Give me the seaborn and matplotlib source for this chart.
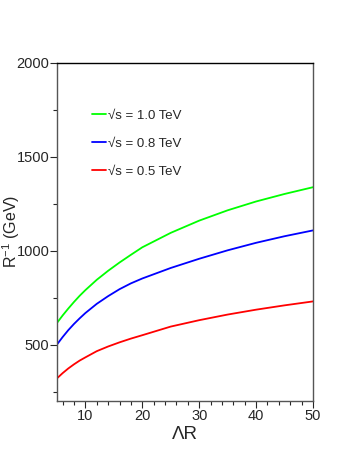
import numpy as np
import pandas as pd
import matplotlib
matplotlib.use("Agg")
import matplotlib.pyplot as plt
from matplotlib.ticker import MultipleLocator
import seaborn as sns

# Lambda*R values and R^-1 (GeV) for each collider energy
lam_r = [5, 6, 7, 8, 9, 10, 12, 14, 16, 18, 20, 25, 30, 35, 40, 45, 50]
rinv_10 = [615, 655, 692, 727, 760, 790, 845, 893, 937, 978, 1018, 1095, 1160, 1215, 1262, 1302, 1338]
rinv_08 = [500, 540, 577, 610, 640, 668, 717, 758, 795, 826, 852, 908, 957, 1002, 1042, 1077, 1108]
rinv_05 = [320, 348, 373, 395, 415, 432, 465, 490, 512, 532, 550, 596, 630, 660, 686, 709, 730]

labels = ["√s = 1.0 TeV", "√s = 0.8 TeV", "√s = 0.5 TeV"]
colors = ["#00ff00", "#0000ff", "#ff0000"]

df = pd.concat([
    pd.DataFrame({"LR": lam_r, "Rinv": rinv_10, "energy": labels[0]}),
    pd.DataFrame({"LR": lam_r, "Rinv": rinv_08, "energy": labels[1]}),
    pd.DataFrame({"LR": lam_r, "Rinv": rinv_05, "energy": labels[2]}),
])

sns.set_style("ticks")
plt.rcParams["font.family"] = ["Liberation Sans", "DejaVu Sans"]
plt.rcParams["mathtext.default"] = "regular"

fig = plt.figure(figsize=(3.47, 4.49), dpi=100)
ax = fig.add_axes([0.164, 0.107, 0.738, 0.753])

sns.lineplot(data=df, x="LR", y="Rinv", hue="energy", hue_order=labels,
             palette=colors, linewidth=1.3, ax=ax)

ax.set_xlim(5, 50)
ax.set_ylim(200, 2000)
ax.set_xticks([10, 20, 30, 40, 50])
ax.set_yticks([500, 1000, 1500, 2000])
ax.xaxis.set_minor_locator(MultipleLocator(2))
ax.yaxis.set_minor_locator(MultipleLocator(250))
ax.tick_params(which="major", length=5, width=0.8, labelsize=10.5, pad=1)
ax.tick_params(axis="y", which="major", pad=0.5)
ax.tick_params(which="minor", length=3, width=0.8)

for side in ["left", "right", "bottom"]:
    ax.spines[side].set_color("#555555")
ax.spines["top"].set_color("black")
for s in ax.spines.values():
    s.set_linewidth(1.0)

ax.set_xlabel("ΛR", fontsize=13.5, labelpad=2)
ax.set_ylabel("R$^{-1}$ (GeV)", fontsize=11.5)
ax.yaxis.set_label_coords(-0.138, 0.5)

ax.legend(frameon=False, fontsize=9.5, loc="upper left",
          bbox_to_anchor=(0.09, 0.897), handlelength=1.1, handletextpad=0.15,
          labelspacing=1.2)

fig.savefig("out.png", dpi=100)
